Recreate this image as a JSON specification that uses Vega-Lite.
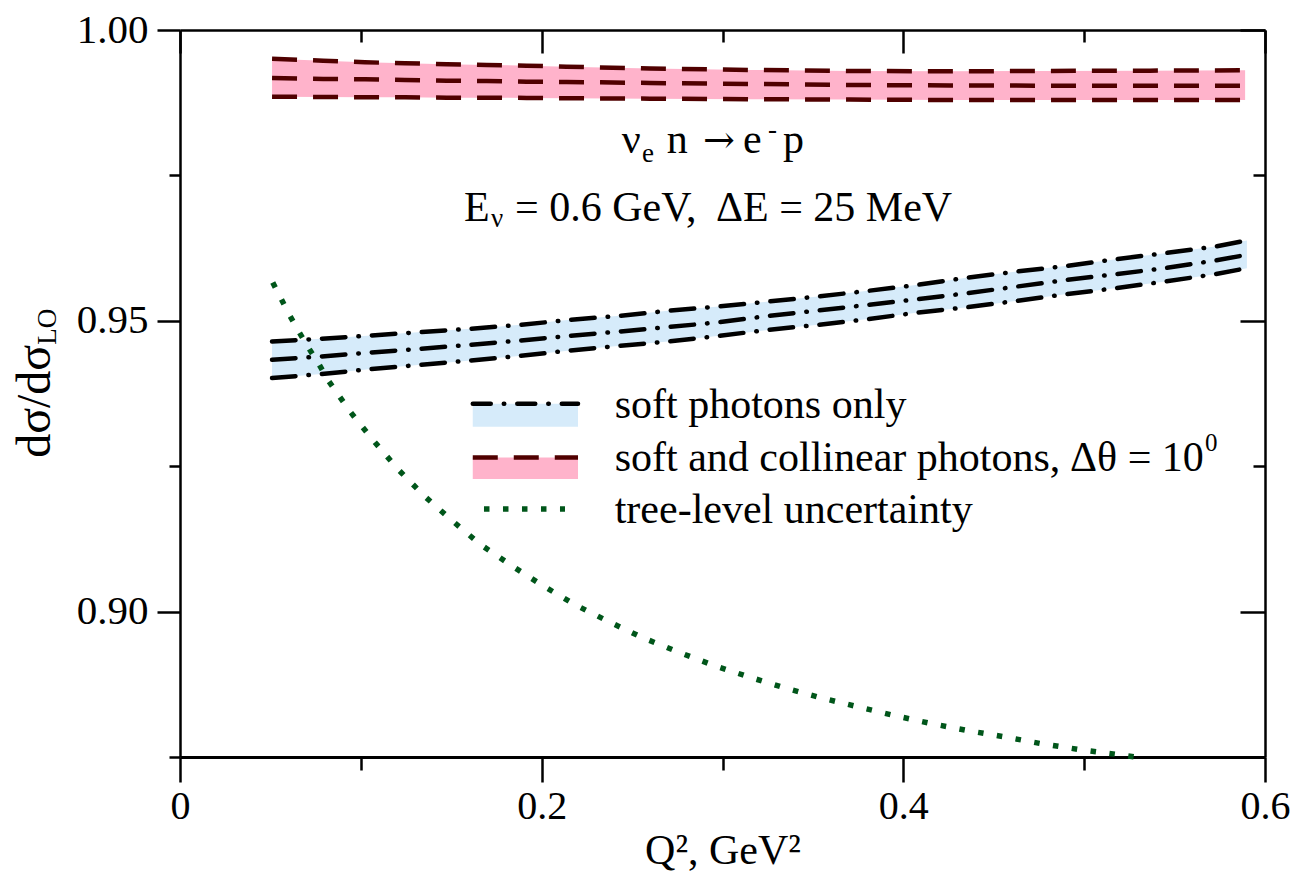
{
  "$schema": "https://vega.github.io/schema/vega-lite/v6.json",
  "width": 1085,
  "height": 727,
  "autosize": "none",
  "padding": {"left": 180, "top": 30, "right": 30, "bottom": 123},
  "background": "white",
  "config": {
    "view": {"stroke": null},
    "font": "Liberation Serif",
    "axis": {
      "labelFont": "Liberation Serif",
      "titleFont": "Liberation Serif",
      "labelColor": "black",
      "titleColor": "black",
      "domainColor": "black",
      "tickColor": "black",
      "titleFontWeight": "normal",
      "labelFlush": false,
      "labelOverlap": false,
      "labelBound": false,
      "grid": false
    },
    "text": {"font": "Liberation Serif", "color": "black", "baseline": "alphabetic", "align": "left", "fontSize": 42}
  },
  "datasets": {
    "pink": [
      {"q2": 0.0509, "top": 0.99507, "mid": 0.99175, "bot": 0.98854},
      {"q2": 0.0792, "top": 0.99473, "mid": 0.99158, "bot": 0.98849},
      {"q2": 0.1023, "top": 0.99445, "mid": 0.99153, "bot": 0.98844},
      {"q2": 0.1244, "top": 0.99428, "mid": 0.99141, "bot": 0.98844},
      {"q2": 0.1475, "top": 0.99411, "mid": 0.99129, "bot": 0.98837},
      {"q2": 0.1696, "top": 0.99399, "mid": 0.99124, "bot": 0.98837},
      {"q2": 0.1917, "top": 0.99387, "mid": 0.99112, "bot": 0.98832},
      {"q2": 0.2138, "top": 0.99369, "mid": 0.99107, "bot": 0.98826},
      {"q2": 0.2599, "top": 0.99338, "mid": 0.99089, "bot": 0.9882},
      {"q2": 0.3152, "top": 0.99313, "mid": 0.99072, "bot": 0.98811},
      {"q2": 0.3705, "top": 0.99296, "mid": 0.99055, "bot": 0.98804},
      {"q2": 0.4258, "top": 0.9929, "mid": 0.99046, "bot": 0.98797},
      {"q2": 0.4811, "top": 0.99296, "mid": 0.99043, "bot": 0.98797},
      {"q2": 0.5364, "top": 0.99301, "mid": 0.99043, "bot": 0.98797},
      {"q2": 0.589, "top": 0.99308, "mid": 0.99043, "bot": 0.98797}
    ],
    "blue": [
      {"q2": 0.0509, "top": 0.94644, "mid": 0.9433, "bot": 0.94015},
      {"q2": 0.078, "top": 0.94691, "mid": 0.94387, "bot": 0.94084},
      {"q2": 0.1056, "top": 0.94747, "mid": 0.94455, "bot": 0.9417},
      {"q2": 0.1333, "top": 0.94806, "mid": 0.94519, "bot": 0.94244},
      {"q2": 0.1609, "top": 0.94863, "mid": 0.94588, "bot": 0.94318},
      {"q2": 0.1886, "top": 0.94931, "mid": 0.94662, "bot": 0.94399},
      {"q2": 0.2157, "top": 0.95017, "mid": 0.94742, "bot": 0.9449},
      {"q2": 0.2433, "top": 0.95086, "mid": 0.94816, "bot": 0.9457},
      {"q2": 0.2699, "top": 0.95172, "mid": 0.94892, "bot": 0.94644},
      {"q2": 0.2981, "top": 0.95246, "mid": 0.94975, "bot": 0.94742},
      {"q2": 0.3257, "top": 0.95332, "mid": 0.95086, "bot": 0.94845},
      {"q2": 0.3528, "top": 0.95418, "mid": 0.95177, "bot": 0.94931},
      {"q2": 0.3805, "top": 0.95515, "mid": 0.95275, "bot": 0.95029},
      {"q2": 0.4081, "top": 0.95619, "mid": 0.95373, "bot": 0.95143},
      {"q2": 0.4358, "top": 0.95744, "mid": 0.95476, "bot": 0.95235},
      {"q2": 0.4628, "top": 0.95847, "mid": 0.95589, "bot": 0.95344},
      {"q2": 0.4905, "top": 0.95945, "mid": 0.95704, "bot": 0.95459},
      {"q2": 0.5176, "top": 0.9606, "mid": 0.95802, "bot": 0.95562},
      {"q2": 0.5447, "top": 0.96163, "mid": 0.95905, "bot": 0.95675},
      {"q2": 0.5724, "top": 0.96277, "mid": 0.96036, "bot": 0.95802},
      {"q2": 0.59, "top": 0.9638, "mid": 0.96134, "bot": 0.95905}
    ],
    "green": [
      {"q2": 0.0513, "v": 0.95658},
      {"q2": 0.0562, "v": 0.95361},
      {"q2": 0.0608, "v": 0.95086},
      {"q2": 0.066, "v": 0.948},
      {"q2": 0.0715, "v": 0.94514},
      {"q2": 0.077, "v": 0.94244},
      {"q2": 0.082, "v": 0.93974},
      {"q2": 0.094, "v": 0.93442},
      {"q2": 0.1069, "v": 0.92943},
      {"q2": 0.1204, "v": 0.92452},
      {"q2": 0.1349, "v": 0.91993},
      {"q2": 0.1503, "v": 0.91569},
      {"q2": 0.1663, "v": 0.91151},
      {"q2": 0.1834, "v": 0.9079},
      {"q2": 0.2006, "v": 0.90447},
      {"q2": 0.2183, "v": 0.9012},
      {"q2": 0.2374, "v": 0.89823},
      {"q2": 0.2561, "v": 0.89548},
      {"q2": 0.2753, "v": 0.89308},
      {"q2": 0.2949, "v": 0.89077},
      {"q2": 0.3145, "v": 0.88878},
      {"q2": 0.3343, "v": 0.88689},
      {"q2": 0.3545, "v": 0.88517},
      {"q2": 0.3748, "v": 0.88363},
      {"q2": 0.395, "v": 0.88213},
      {"q2": 0.4152, "v": 0.88076},
      {"q2": 0.4354, "v": 0.87955},
      {"q2": 0.4557, "v": 0.87847},
      {"q2": 0.4759, "v": 0.87732},
      {"q2": 0.4971, "v": 0.87629},
      {"q2": 0.5185, "v": 0.87543},
      {"q2": 0.5281, "v": 0.875}
    ],
    "one": [{}]
  },
  "layer": [
    {
      "data": {"name": "pink"},
      "mark": {"type": "area", "fill": "#ffb3cb", "opacity": 1},
      "encoding": {
        "x": {
          "field": "q2", "type": "quantitative",
          "scale": {"domain": [0, 0.6], "nice": false, "zero": false},
          "axis": {
            "orient": "bottom",
            "values": [0, 0.1, 0.2, 0.3, 0.4, 0.5, 0.6],
            "labelExpr": "round(datum.value*10)%2==0 ? (datum.value==0 ? '0' : format(datum.value, '.1f')) : ''",
            "tickSize": {"condition": {"test": "round(datum.value*10)%2==0", "value": 25}, "value": 13},
            "tickWidth": 2.5,
            "domainWidth": 3,
            "labelFontSize": 40,
            "labelPadding": 4,
            "title": "Q², GeV²",
            "titleFontSize": 42,
            "titlePadding": 4
          }
        },
        "y": {
          "field": "top", "type": "quantitative",
          "scale": {"domain": [0.875, 1.0], "nice": false, "zero": false},
          "axis": {
            "orient": "left",
            "values": [0.875, 0.9, 0.925, 0.95, 0.975, 1.0],
            "labelExpr": "round(datum.value*1000)%50==0 ? format(datum.value, '.2f') : ''",
            "tickSize": {"condition": {"test": "round(datum.value*1000)%50==0", "value": 23}, "value": 11},
            "tickWidth": 2.5,
            "domainWidth": 2.5,
            "labelFontSize": 41,
            "labelPadding": 9,
            "title": null
          }
        },
        "y2": {"field": "bot"}
      }
    },
    {
      "data": {"name": "blue"},
      "mark": {"type": "area", "fill": "#d6ebfa", "opacity": 1},
      "encoding": {
        "x": {
          "field": "q2", "type": "quantitative",
          "axis": {
            "orient": "top",
            "values": [0, 0.1, 0.2, 0.3, 0.4, 0.5, 0.6],
            "labels": false,
            "tickSize": {"condition": {"test": "round(datum.value*10)%2==0", "value": -23}, "value": -12},
            "tickWidth": 2.5,
            "domainWidth": 2.5,
            "title": null
          }
        },
        "y": {
          "field": "top", "type": "quantitative",
          "axis": {
            "orient": "right",
            "values": [0.875, 0.9, 0.925, 0.95, 0.975, 1.0],
            "labels": false,
            "tickSize": {"condition": {"test": "round(datum.value*1000)%50==0", "value": -25}, "value": -12},
            "tickWidth": 2.5,
            "domainWidth": 2.5,
            "title": null
          }
        },
        "y2": {"field": "bot"}
      }
    },
    {
      "data": {"name": "pink"},
      "transform": [{"fold": ["top", "mid", "bot"], "as": ["edge", "val"]}],
      "mark": {"type": "line", "color": "#500000", "strokeWidth": 4.5, "strokeDash": [25, 16]},
      "encoding": {
        "x": {"field": "q2", "type": "quantitative", "axis": null},
        "y": {"field": "val", "type": "quantitative", "axis": null},
        "detail": {"field": "edge"}
      }
    },
    {
      "data": {"name": "blue"},
      "transform": [{"fold": ["top", "mid", "bot"], "as": ["edge", "val"]}],
      "mark": {"type": "line", "color": "black", "strokeWidth": 4.5, "strokeCap": "round", "strokeDash": [23.5, 13, 0.5, 13]},
      "encoding": {
        "x": {"field": "q2", "type": "quantitative", "axis": null},
        "y": {"field": "val", "type": "quantitative", "axis": null},
        "detail": {"field": "edge"}
      }
    },
    {
      "data": {"name": "green"},
      "mark": {"type": "line", "color": "#00561a", "strokeWidth": 5.5, "strokeDash": [5.5, 13.5]},
      "encoding": {
        "x": {"field": "q2", "type": "quantitative", "axis": null},
        "y": {"field": "v", "type": "quantitative", "axis": null}
      }
    },
    {
      "data": {"name": "one"},
      "mark": {"type": "rect", "fill": "#d6ebfa"},
      "encoding": {
        "x": {"datum": 0.1619, "type": "quantitative", "axis": null},
        "x2": {"datum": 0.2201},
        "y": {"datum": 0.93574, "type": "quantitative", "axis": null},
        "y2": {"datum": 0.93179}
      }
    },
    {
      "data": {"name": "one"},
      "mark": {"type": "rule", "color": "black", "strokeWidth": 4.5, "strokeCap": "round", "strokeDash": [18, 13, 0.5, 13]},
      "encoding": {
        "x": {"datum": 0.1619, "type": "quantitative", "axis": null},
        "x2": {"datum": 0.2201},
        "y": {"datum": 0.93574, "type": "quantitative", "axis": null}
      }
    },
    {
      "data": {"name": "one"},
      "mark": {"type": "rect", "fill": "#ffb3cb"},
      "encoding": {
        "x": {"datum": 0.1619, "type": "quantitative", "axis": null},
        "x2": {"datum": 0.2201},
        "y": {"datum": 0.92651, "type": "quantitative", "axis": null},
        "y2": {"datum": 0.9228}
      }
    },
    {
      "data": {"name": "one"},
      "mark": {"type": "rule", "color": "#500000", "strokeWidth": 4.5, "strokeDash": [25, 16]},
      "encoding": {
        "x": {"datum": 0.1619, "type": "quantitative", "axis": null},
        "x2": {"datum": 0.2201},
        "y": {"datum": 0.92651, "type": "quantitative", "axis": null}
      }
    },
    {
      "data": {"name": "one"},
      "mark": {"type": "rule", "color": "#00561a", "strokeWidth": 5.5, "strokeDash": [5.5, 13.5]},
      "encoding": {
        "x": {"datum": 0.1681, "type": "quantitative", "axis": null},
        "x2": {"datum": 0.2129},
        "y": {"datum": 0.91765, "type": "quantitative", "axis": null}
      }
    },
    {
      "data": {"name": "one"},
      "mark": {"type": "text", "text": "soft photons only"},
      "encoding": {
        "x": {"datum": 0.24039, "type": "quantitative", "axis": null},
        "y": {"datum": 0.93333, "type": "quantitative", "axis": null}
      }
    },
    {
      "data": {"name": "one"},
      "mark": {"type": "text", "text": "soft and collinear photons,"},
      "encoding": {
        "x": {"datum": 0.24039, "type": "quantitative", "axis": null},
        "y": {"datum": 0.92423, "type": "quantitative", "axis": null}
      }
    },
    {
      "data": {"name": "one"},
      "mark": {"type": "text", "text": "Δθ = 10"},
      "encoding": {
        "x": {"datum": 0.49217, "type": "quantitative", "axis": null},
        "y": {"datum": 0.92423, "type": "quantitative", "axis": null}
      }
    },
    {
      "data": {"name": "one"},
      "mark": {"type": "text", "text": "0", "fontSize": 25},
      "encoding": {
        "x": {"datum": 0.56682, "type": "quantitative", "axis": null},
        "y": {"datum": 0.92754, "type": "quantitative", "axis": null}
      }
    },
    {
      "data": {"name": "one"},
      "mark": {"type": "text", "text": "tree-level uncertainty"},
      "encoding": {
        "x": {"datum": 0.24039, "type": "quantitative", "axis": null},
        "y": {"datum": 0.91529, "type": "quantitative", "axis": null}
      }
    },
    {
      "data": {"name": "one"},
      "mark": {"type": "text", "text": "ν"},
      "encoding": {
        "x": {"datum": 0.24426, "type": "quantitative", "axis": null},
        "y": {"datum": 0.97881, "type": "quantitative", "axis": null}
      }
    },
    {
      "data": {"name": "one"},
      "mark": {"type": "text", "text": "e", "fontSize": 27},
      "encoding": {
        "x": {"datum": 0.25548, "type": "quantitative", "axis": null},
        "y": {"datum": 0.97737, "type": "quantitative", "axis": null}
      }
    },
    {
      "data": {"name": "one"},
      "mark": {"type": "text", "text": "n"},
      "encoding": {
        "x": {"datum": 0.26914, "type": "quantitative", "axis": null},
        "y": {"datum": 0.97881, "type": "quantitative", "axis": null}
      }
    },
    {
      "data": {"name": "one"},
      "mark": {"type": "text", "text": "→", "font": "DejaVu Serif", "fontSize": 38},
      "encoding": {
        "x": {"datum": 0.28922, "type": "quantitative", "axis": null},
        "y": {"datum": 0.97881, "type": "quantitative", "axis": null}
      }
    },
    {
      "data": {"name": "one"},
      "mark": {"type": "text", "text": "e"},
      "encoding": {
        "x": {"datum": 0.31134, "type": "quantitative", "axis": null},
        "y": {"datum": 0.97881, "type": "quantitative", "axis": null}
      }
    },
    {
      "data": {"name": "one"},
      "mark": {"type": "text", "text": "-", "fontSize": 27},
      "encoding": {
        "x": {"datum": 0.32516, "type": "quantitative", "axis": null},
        "y": {"datum": 0.98144, "type": "quantitative", "axis": null}
      }
    },
    {
      "data": {"name": "one"},
      "mark": {"type": "text", "text": "p"},
      "encoding": {
        "x": {"datum": 0.33346, "type": "quantitative", "axis": null},
        "y": {"datum": 0.97881, "type": "quantitative", "axis": null}
      }
    },
    {
      "data": {"name": "one"},
      "mark": {"type": "text", "text": "E"},
      "encoding": {
        "x": {"datum": 0.15705, "type": "quantitative", "axis": null},
        "y": {"datum": 0.96718, "type": "quantitative", "axis": null}
      }
    },
    {
      "data": {"name": "one"},
      "mark": {"type": "text", "text": "ν", "fontSize": 27},
      "encoding": {
        "x": {"datum": 0.17198, "type": "quantitative", "axis": null},
        "y": {"datum": 0.96615, "type": "quantitative", "axis": null}
      }
    },
    {
      "data": {"name": "one"},
      "mark": {"type": "text", "text": "= 0.6 GeV,"},
      "encoding": {
        "x": {"datum": 0.18525, "type": "quantitative", "axis": null},
        "y": {"datum": 0.96718, "type": "quantitative", "axis": null}
      }
    },
    {
      "data": {"name": "one"},
      "mark": {"type": "text", "text": "ΔE = 25 MeV"},
      "encoding": {
        "x": {"datum": 0.2964, "type": "quantitative", "axis": null},
        "y": {"datum": 0.96718, "type": "quantitative", "axis": null}
      }
    },
    {
      "data": {"name": "one"},
      "mark": {"type": "text", "text": "dσ/dσ", "align": "right", "angle": 270, "fontSize": 48},
      "encoding": {
        "x": {"datum": -0.07189, "type": "quantitative", "axis": null},
        "y": {"datum": 0.94588, "type": "quantitative", "axis": null}
      }
    },
    {
      "data": {"name": "one"},
      "mark": {"type": "text", "text": "LO", "align": "left", "angle": 270, "fontSize": 27},
      "encoding": {
        "x": {"datum": -0.06857, "type": "quantitative", "axis": null},
        "y": {"datum": 0.94588, "type": "quantitative", "axis": null}
      }
    }
  ],
  "resolve": {"axis": {"x": "independent", "y": "independent"}}
}
